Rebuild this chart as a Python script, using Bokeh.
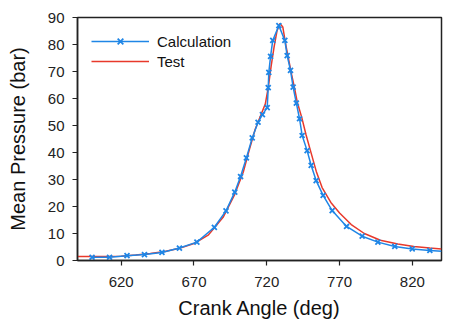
from bokeh.plotting import figure
from bokeh.models import FixedTicker, Range1d, Legend, LegendItem
from bokeh.embed import file_html
from bokeh.resources import INLINE

# Calculated mean cylinder pressure (crank angle in deg, pressure in bar)
calc_angle = [600, 612, 624, 636, 648, 660, 672, 684, 692, 698, 702, 706, 710,
              714, 717, 720.3, 721, 721.4, 722.6, 724.1, 728.3, 732.4, 734, 736.3,
              738.1, 740.3, 742.5, 744.3, 747.7, 750.5, 753.9, 758.7, 764.9, 774.8,
              785.5, 796.3, 807.9, 819.9, 832, 840]
calc_pressure = [1.2, 1.2, 1.8, 2.2, 3.0, 4.6, 6.8, 12.3, 18.4, 25.3, 31.1, 38.0, 45.4,
                 51.2, 54.0, 56.6, 64.0, 69.7, 75.6, 81.5, 87.0, 81.5, 75.9, 70.4,
                 64.2, 58.3, 52.5, 46.3, 40.7, 35.2, 29.6, 24.1, 18.5, 12.6,
                 9.0, 6.8, 5.2, 4.3, 3.7, 3.4]

# Measured mean cylinder pressure
test_angle = [590, 600, 610, 620, 630, 640, 650, 660, 670, 680, 690, 698, 704, 708,
              712, 716, 719, 721, 723, 725, 727, 729, 731, 733, 735, 737, 739, 741,
              744, 747, 750, 754, 758, 764, 770, 778, 787, 798, 810, 821, 832, 840]
test_pressure = [1.5, 1.5, 1.5, 1.6, 2.0, 2.6, 3.3, 4.5, 6.3, 9.5, 16.0, 24.5, 33.0, 41.0,
                 48.5, 54.0, 58.0, 64.0, 72.0, 79.0, 85.0, 87.8, 86.5, 80.0, 74.5, 69.0,
                 64.0, 58.5, 53.0, 46.5, 40.7, 33.0, 27.0, 21.5, 17.6, 13.3, 10.0, 7.5,
                 6.1, 5.2, 4.6, 4.3]

x_ticks = [620, 670, 720, 770, 820]
y_ticks = [0, 10, 20, 30, 40, 50, 60, 70, 80, 90]

BLUE = "#1f86e6"
RED = "#e8392b"
FONT = "Liberation Sans"

p = figure(width=453, height=328, output_backend="svg", toolbar_location=None,
           x_range=Range1d(590, 840), y_range=Range1d(0, 90),
           min_border_left=77, min_border_right=12, min_border_top=17,
           min_border_bottom=68, background_fill_color="white",
           border_fill_color="white")
p.grid.visible = False
p.outline_line_color = "#222222"
p.outline_line_width = 1.5

test_line = p.line(test_angle, test_pressure, line_color=RED, line_width=1.5)
calc_line = p.line(calc_angle, calc_pressure, line_color=BLUE, line_width=1.5)
calc_pts = p.scatter(calc_angle[:-1], calc_pressure[:-1], marker="x", size=7,
                     line_color=BLUE, line_width=1.8)

for ax in (p.xaxis[0], p.yaxis[0]):
    ax.axis_line_color = "#222222"
    ax.axis_line_width = 1.5
    ax.major_tick_line_color = "#222222"
    ax.major_tick_line_width = 1.2
    ax.major_tick_out = 5
    ax.major_tick_in = 0
    ax.minor_tick_line_color = None
    ax.major_label_text_font = FONT
    ax.major_label_text_font_size = "15px"
    ax.major_label_text_color = "#222222"
    ax.axis_label_text_font = FONT
    ax.axis_label_text_font_size = "20px"
    ax.axis_label_text_font_style = "normal"
    ax.axis_label_text_color = "#111111"

p.xaxis[0].ticker = FixedTicker(ticks=x_ticks)
p.yaxis[0].ticker = FixedTicker(ticks=y_ticks)
p.xaxis[0].axis_label = "Crank Angle (deg)"
p.yaxis[0].axis_label = "Mean Pressure (bar)"
p.xaxis[0].major_label_standoff = 11
p.xaxis[0].axis_label_standoff = 7
p.yaxis[0].major_label_standoff = 8
p.yaxis[0].axis_label_standoff = 16

legend = Legend(items=[LegendItem(label="Calculation", renderers=[calc_line, calc_pts]),
                       LegendItem(label="Test", renderers=[test_line])],
                location="top_left", margin=14, padding=6, spacing=0,
                glyph_width=58, glyph_height=20, label_standoff=8,
                label_text_font=FONT, label_text_font_size="15px",
                label_text_color="#111111", border_line_color=None,
                background_fill_alpha=0)
p.add_layout(legend)

open("out.html", "w").write(file_html(p, INLINE))
